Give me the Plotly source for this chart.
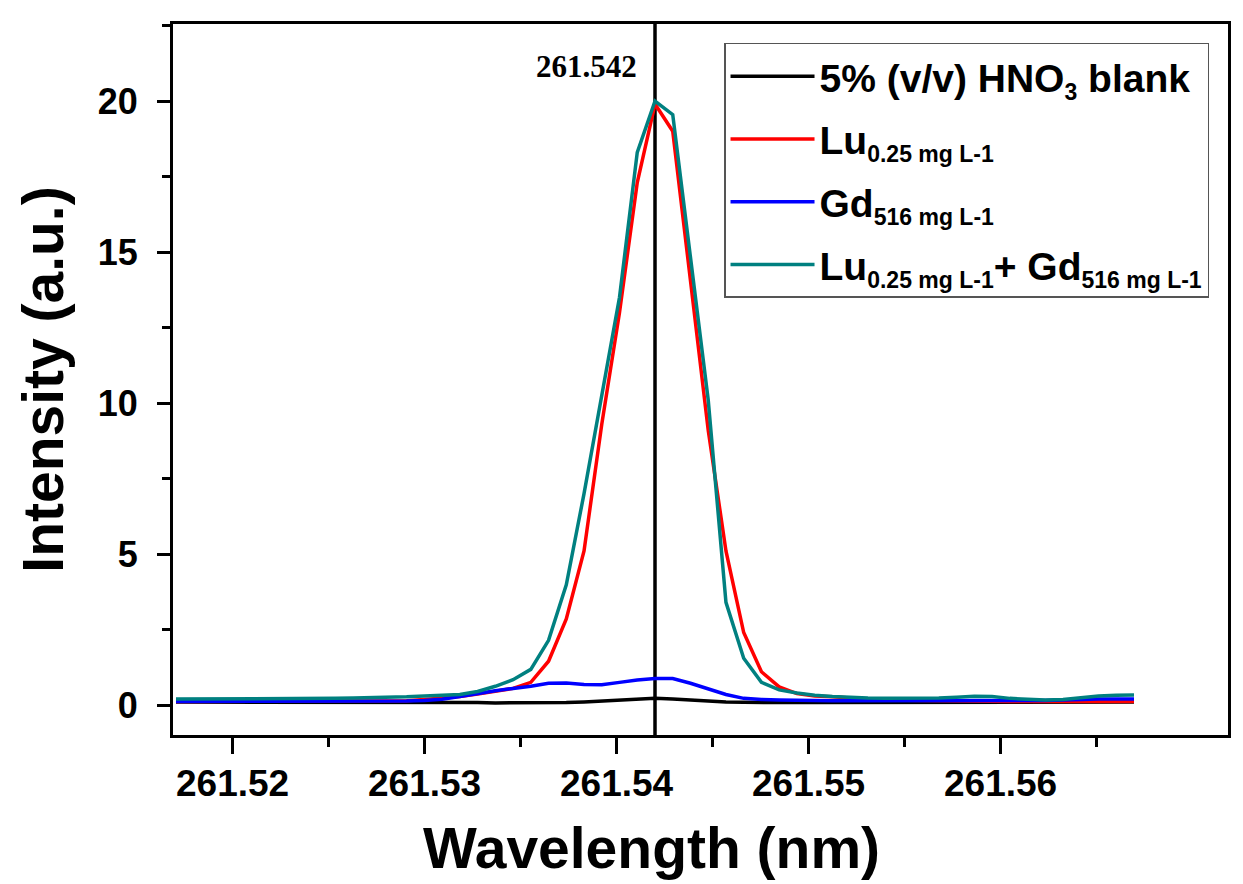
import plotly.graph_objects as go

# Wavelength grid (nm)
wavelength = [
    261.517052, 261.517976, 261.518900, 261.519824, 261.520748, 261.521672,
    261.522596, 261.523520, 261.524444, 261.525368, 261.526292, 261.527216,
    261.528140, 261.529064, 261.529988, 261.530912, 261.531836, 261.532760,
    261.533684, 261.534608, 261.535532, 261.536456, 261.537380, 261.538304,
    261.539228, 261.540152, 261.541076, 261.542000, 261.542924, 261.543848,
    261.544772, 261.545696, 261.546620, 261.547544, 261.548468, 261.549392,
    261.550316, 261.551240, 261.552164, 261.553088, 261.554012, 261.554936,
    261.555860, 261.556784, 261.557708, 261.558632, 261.559556, 261.560480,
    261.561404, 261.562328, 261.563252, 261.564176, 261.565100, 261.566024,
    261.566948,
]

# Intensities (a.u.)
blank = [
    0.10, 0.10, 0.10, 0.10, 0.10, 0.10, 0.10, 0.10, 0.10, 0.10, 0.10, 0.10,
    0.10, 0.10, 0.10, 0.10, 0.09, 0.08, 0.07, 0.07, 0.07, 0.08, 0.08, 0.10,
    0.13, 0.16, 0.19, 0.22, 0.20, 0.16, 0.12, 0.10, 0.09, 0.08, 0.08, 0.08,
    0.08, 0.08, 0.09, 0.09, 0.08, 0.08, 0.08, 0.08, 0.09, 0.09, 0.08, 0.08,
    0.08, 0.09, 0.09, 0.09, 0.10, 0.10, 0.10,
]
lu = [
    0.12, 0.12, 0.12, 0.12, 0.12, 0.12, 0.12, 0.12, 0.12, 0.12, 0.12, 0.12,
    0.12, 0.14, 0.18, 0.23, 0.28, 0.36, 0.45, 0.55, 0.75, 1.45, 2.85, 5.10,
    9.30, 13.0, 17.3, 19.9, 19.0, 14.1, 9.10, 5.10, 2.40, 1.10, 0.60, 0.38,
    0.30, 0.27, 0.22, 0.19, 0.17, 0.16, 0.15, 0.14, 0.13, 0.13, 0.12, 0.12,
    0.12, 0.12, 0.12, 0.12, 0.12, 0.12, 0.12,
]
gd = [
    0.12, 0.12, 0.12, 0.12, 0.12, 0.12, 0.12, 0.12, 0.12, 0.12, 0.12, 0.12,
    0.12, 0.13, 0.15, 0.19, 0.28, 0.38, 0.47, 0.55, 0.62, 0.72, 0.73, 0.68,
    0.67, 0.75, 0.83, 0.88, 0.88, 0.72, 0.55, 0.35, 0.22, 0.18, 0.17, 0.15,
    0.15, 0.14, 0.14, 0.14, 0.14, 0.14, 0.15, 0.15, 0.16, 0.16, 0.15, 0.14,
    0.14, 0.15, 0.17, 0.19, 0.20, 0.20, 0.20,
]
lu_gd = [
    0.20, 0.20, 0.21, 0.21, 0.20, 0.21, 0.21, 0.22, 0.22, 0.22, 0.23, 0.24,
    0.25, 0.27, 0.30, 0.32, 0.35, 0.45, 0.62, 0.84, 1.18, 2.14, 3.98, 7.00,
    10.2, 13.5, 18.3, 20.0, 19.55, 14.85, 10.1, 3.40, 1.55, 0.75, 0.50, 0.40,
    0.32, 0.28, 0.25, 0.23, 0.22, 0.22, 0.22, 0.23, 0.26, 0.29, 0.28, 0.22,
    0.19, 0.17, 0.18, 0.24, 0.30, 0.32, 0.33,
]

SUB = "<sub><span style='font-size:23px'>{}</span></sub>"
series_names = [
    "<b>5% (v/v) HNO" + SUB.format("3") + " blank</b>",
    "<b>Lu" + SUB.format("0.25 mg L-1") + "</b>",
    "<b>Gd" + SUB.format("516 mg L-1") + "</b>",
    "<b>Lu" + SUB.format("0.25 mg L-1") + "+ Gd" + SUB.format("516 mg L-1") + "</b>",
]
series_values = [blank, lu, gd, lu_gd]
series_colors = ["#000000", "#FF0000", "#0000FF", "#008080"]

peak_wavelength = 261.542
x_ticks = [261.52, 261.53, 261.54, 261.55, 261.56]
x_minor = [261.525, 261.535, 261.545, 261.555, 261.565]
y_ticks = [0, 5, 10, 15, 20]
y_minor = [2.5, 7.5, 12.5, 17.5, 22.5]

FONT = "Liberation Sans, Arial, sans-serif"

fig = go.Figure()
for i, (name, vals, col) in enumerate(zip(series_names, series_values, series_colors)):
    fig.add_trace(go.Scatter(
        x=wavelength, y=vals, mode="lines", name=name,
        line=dict(color=col, width=3.5), legendgroup=f"g{i}",
    ))

# Vertical marker at the Lu line
fig.add_shape(type="line", xref="x", yref="paper", x0=peak_wavelength, x1=peak_wavelength,
              y0=0, y1=1, line=dict(color="black", width=3.5), layer="below")
fig.add_annotation(x=peak_wavelength, y=1, xref="x", yref="paper", yshift=-42, xshift=-16,
                   text=f"<b>{peak_wavelength:.3f}</b>", showarrow=False,
                   xanchor="right", yanchor="middle",
                   font=dict(family="Liberation Serif, Times New Roman, serif", size=31, color="black"))

# x-axis title, centred under the spectrum span
fig.add_annotation(x=0.454, y=-0.159, xref="paper", yref="paper",
                   text="<b>Wavelength (nm)</b>", showarrow=False,
                   xanchor="center", yanchor="middle",
                   font=dict(family=FONT, size=57, color="black"))

fig.update_layout(
    width=1243, height=884,
    margin=dict(l=173, r=15, t=24, b=149),
    paper_bgcolor="white", plot_bgcolor="white",
    font=dict(family=FONT, color="black"),
    showlegend=True,
    legend=dict(
        x=0.5223, y=0.9733, xanchor="left", yanchor="top",
        bgcolor="white", bordercolor="#555555", borderwidth=1.5,
        font=dict(family=FONT, size=39, color="black"),
        itemwidth=84, tracegroupgap=9,
    ),
    xaxis=dict(
        range=[261.516896, 261.571844],
        tickmode="array", tickvals=x_ticks, ticktext=[f"{v:.2f}" for v in x_ticks],
        ticks="outside", ticklen=16, tickwidth=2.5, tickcolor="black",
        minor=dict(tickmode="array", tickvals=x_minor, ticks="outside", ticklen=9,
                   tickwidth=2.5, tickcolor="black", showgrid=False),
        showline=True, linecolor="black", linewidth=3, mirror=True,
        showgrid=False, zeroline=False,
        tickfont=dict(family=FONT, size=37, color="black", weight="bold"),
        ticklabelstandoff=-2,
    ),
    yaxis=dict(
        range=[-0.993, 22.55],
        tickmode="array", tickvals=y_ticks, ticktext=[str(v) for v in y_ticks],
        ticks="outside", ticklen=13, tickwidth=2.5, tickcolor="black",
        minor=dict(tickmode="array", tickvals=y_minor, ticks="outside", ticklen=8,
                   tickwidth=2.5, tickcolor="black", showgrid=False),
        showline=True, linecolor="black", linewidth=3, mirror=True,
        showgrid=False, zeroline=False,
        tickfont=dict(family=FONT, size=36, color="black", weight="bold"),
        ticklabelstandoff=12,
        title=dict(text="<b>Intensity (a.u.)</b>", standoff=16,
                   font=dict(family=FONT, size=57, color="black")),
    ),
)

fig.write_html("out.html")
